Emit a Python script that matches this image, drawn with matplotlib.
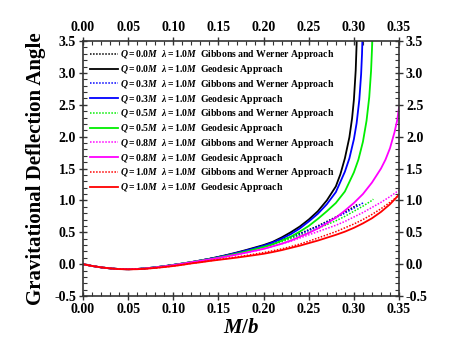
import matplotlib
matplotlib.use("Agg")
import matplotlib.pyplot as plt
from matplotlib.ticker import MultipleLocator

plt.rcParams['font.family'] = ['Liberation Serif', 'DejaVu Serif']
plt.rcParams['font.weight'] = 'bold'
plt.rcParams['mathtext.fontset'] = 'custom'
plt.rcParams['mathtext.it'] = 'Liberation Serif:italic:bold'
plt.rcParams['mathtext.rm'] = 'Liberation Serif:bold'

# M/b grid, step 0.01
GRID = [0.00, 0.01, 0.02, 0.03, 0.04, 0.05, 0.06, 0.07, 0.08, 0.09,
        0.10, 0.11, 0.12, 0.13, 0.14, 0.15, 0.16, 0.17, 0.18, 0.19,
        0.20, 0.21, 0.22, 0.23, 0.24, 0.25, 0.26, 0.27, 0.28, 0.29,
        0.30, 0.31, 0.32, 0.33, 0.34, 0.35]

charges = ['0.0', '0.3', '0.5', '0.8', '1.0']
colors = ['black', '#0000ff', '#00ee00', '#ff00ff', '#ff0000']

# geodesic approach (solid)
geo_y = [
    [0, -.028, -.05, -.066, -.076, -.079, -.075, -.064, -.049, -.031,
     -.011, .010, .033, .058, .085, .115, .147, .182, .22, .26,
     .30, .35, .42, .50, .59, .70, .83, 1.00, 1.22],
    [0, -.028, -.05, -.066, -.076, -.079, -.075, -.064, -.049, -.031,
     -.011, .010, .033, .058, .083, .112, .143, .177, .213, .25,
     .29, .34, .40, .47, .56, .67, .79, .94, 1.13],
    [0, -.028, -.05, -.066, -.076, -.079, -.075, -.064, -.050, -.032,
     -.012, .010, .032, .056, .078, .105, .134, .165, .198, .233,
     .27, .31, .37, .43, .51, .60, .71, .83, .96, 1.14, 1.44],
    [0, -.028, -.05, -.066, -.076, -.079, -.075, -.065, -.051, -.034,
     -.015, .007, .030, .052, .074, .098, .124, .151, .18, .21,
     .24, .28, .32, .37, .43, .49, .56, .64, .73, .84, .96, 1.10, 1.28, 1.50],
    [0, -.028, -.05, -.066, -.077, -.081, -.079, -.071, -.059, -.045,
     -.029, -.010, .012, .030, .050, .068, .085, .103, .122, .142,
     .163, .19, .22, .255, .29, .33, .37, .415, .46, .51,
     .57, .64, .72, .82, .94, 1.09],
]
# steep part near the divergence
geo_tail_x = [
    [0.285, 0.29, 0.295, 0.298, 0.300, 0.302, 0.303, 0.3035],
    [0.285, 0.29, 0.295, 0.30, 0.303, 0.306, 0.308, 0.309, 0.3098],
    [0.305, 0.31, 0.314, 0.317, 0.319, 0.320, 0.3206],
    [0.335, 0.34, 0.345, 0.348, 0.35],
    [],
]
geo_tail_y = [
    [1.41, 1.66, 1.99, 2.29, 2.58, 3.04, 3.45, 3.77],
    [1.29, 1.45, 1.66, 1.96, 2.21, 2.58, 2.98, 3.30, 3.71],
    [1.64, 1.92, 2.25, 2.62, 3.03, 3.36, 3.64],
    [1.64, 1.82, 2.07, 2.26, 2.46],
    [],
]

# Gibbons and Werner approach (dotted)
gw_y = [
    [0, -.028, -.05, -.066, -.076, -.079, -.075, -.064, -.049, -.031,
     -.011, .010, .033, .058, .085, .114, .145, .178, .213, .25,
     .29, .33, .38, .43, .48, .54, .60, .67, .74, .82, .90],
    [0, -.028, -.05, -.066, -.076, -.079, -.075, -.064, -.049, -.031,
     -.011, .010, .033, .058, .083, .111, .141, .174, .209, .246,
     .285, .325, .37, .42, .47, .53, .59, .66, .73, .80, .88, .96],
    [0, -.028, -.05, -.066, -.076, -.079, -.075, -.064, -.050, -.032,
     -.012, .010, .032, .055, .077, .103, .131, .161, .193, .23,
     .27, .31, .35, .40, .45, .50, .56, .62, .68, .75, .83, .91, 1.00],
    [0, -.028, -.05, -.066, -.076, -.079, -.075, -.065, -.051, -.034,
     -.015, .007, .029, .051, .073, .097, .122, .148, .176, .207,
     .24, .28, .32, .36, .41, .46, .51, .56, .61, .67,
     .74, .81, .89, .97, 1.06, 1.16],
    [0, -.028, -.05, -.066, -.077, -.081, -.079, -.071, -.059, -.045,
     -.029, -.009, .013, .032, .053, .072, .092, .113, .135, .158,
     .182, .21, .24, .275, .315, .36, .41, .46, .51, .57,
     .63, .70, .78, .87, .97, 1.08],
]
gw_tail_x = [[0.304], [0.3105], [0.3215], [], []]
gw_tail_y = [[0.94], [0.965], [1.02], [], []]

fig = plt.figure(figsize=(4.64, 3.55), dpi=100)
ax = fig.add_axes([0.179, 0.166, 0.681, 0.7185])

for i, q in enumerate(charges):
    lam = r'$\mathit{Q=%sM}$  $\mathit{λ=1.0M}$  ' % q
    xd = GRID[:len(gw_y[i])] + gw_tail_x[i]
    yd = gw_y[i] + gw_tail_y[i]
    ax.plot(xd, yd, ls=(0, (1, 1)), color=colors[i], lw=1.1,
            label=lam + 'Gibbons and Werner Approach')
    xs = GRID[:len(geo_y[i])] + geo_tail_x[i]
    ys = geo_y[i] + geo_tail_y[i]
    ax.plot(xs, ys, ls='-', color=colors[i], lw=1.3,
            label=lam + 'Geodesic Approach')

ax.set_xlim(0, 0.35)
ax.set_ylim(-0.5, 3.5)
ax.xaxis.set_major_locator(MultipleLocator(0.05))
ax.xaxis.set_minor_locator(MultipleLocator(0.01))
ax.yaxis.set_major_locator(MultipleLocator(0.5))
ax.yaxis.set_minor_locator(MultipleLocator(0.1))
ax.xaxis.set_major_formatter(plt.FormatStrFormatter('%.2f'))
ax.yaxis.set_major_formatter(plt.FormatStrFormatter('%.1f'))

ax.tick_params(which='major', direction='inout', length=6, width=1,
               top=True, right=True, labeltop=True, labelright=True,
               labelsize=10, color='#333333', pad=2)
ax.tick_params(which='minor', direction='in', length=3, width=0.8,
               top=True, right=True, color='#333333')
for lab in ax.get_xticklabels() + ax.get_yticklabels():
    lab.set_fontweight('bold')
for sp in ax.spines.values():
    sp.set_linewidth(1.2)
    sp.set_color('#333333')

ax.set_xlabel(r'$\mathit{M/b}$', fontsize=15, labelpad=2)
ax.set_ylabel('Gravitational Deflection Angle', fontsize=15,
              fontweight='bold', labelpad=6)

leg = ax.legend(loc='upper left', frameon=False, fontsize=7,
                handlelength=2.8, handletextpad=0.3, labelspacing=0.18,
                borderaxespad=0.45, borderpad=0.3)
for t in leg.get_texts():
    t.set_fontweight('bold')

fig.savefig('out.png', dpi=100)
